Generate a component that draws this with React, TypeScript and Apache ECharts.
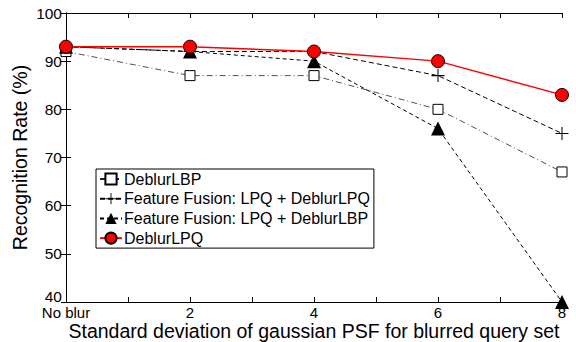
import React, { useEffect, useRef } from "react";
import * as echarts from "echarts";

const xValues = [0, 2, 4, 6, 8];
const deblurLBP = [92, 87, 87, 80, 67];
const fusionLPQ = [93, 92, 92, 87, 75];
const fusionLBP = [93, 92, 90, 76, 40];
const deblurLPQ = [93, 93, 92, 90, 83];

const seriesNames = [
  "DeblurLBP",
  "Feature Fusion: LPQ + DeblurLPQ",
  "Feature Fusion: LPQ + DeblurLBP",
  "DeblurLPQ",
];

const pair = (ys: number[]) => xValues.map((x, i) => [x, ys[i]]);

const plusPath =
  "path://M4.6,0h0.8v4.6h4.6v0.8h-4.6v4.6h-0.8v-4.6h-4.6v-0.8h4.6z";

export default function App() {
  const ref = useRef<HTMLDivElement>(null);
  useEffect(() => {
    document.body.style.margin = "0";
    const chart = echarts.init(ref.current!, null, { renderer: "svg" });
    const font = "Liberation Sans, Arial, Helvetica, sans-serif";
    const axisCommon = {
      axisLine: { lineStyle: { color: "#000", width: 1 } },
      axisTick: { inside: true, length: 5, lineStyle: { color: "#000" } },
      splitLine: { show: false },
    };
    chart.setOption({
      animation: false,
      textStyle: { fontFamily: font },
      grid: { left: 66, right: 14, top: 13, bottom: 40, outerBoundsMode: "none", containLabel: false },
      legend: {
        orient: "vertical",
        left: 96,
        top: 169,
        padding: [2, 4, 2, 3],
        backgroundColor: "#fff",
        borderColor: "#000",
        borderWidth: 1,
        itemWidth: 22,
        itemHeight: 14,
        itemGap: 3.7,
        textStyle: { fontSize: 16, lineHeight: 16, color: "#000", fontFamily: font, padding: [0, 0, 0, -3] },
        data: seriesNames,
      },
      xAxis: [
        {
          type: "value",
          min: 0,
          max: 8,
          interval: 1,
          ...axisCommon,
          name: "Standard deviation of gaussian PSF for blurred query set",
          nameLocation: "middle",
          nameGap: 20,
          nameMoveOverlap: false,
          nameTextStyle: { fontSize: 19.5, lineHeight: 18, color: "#000", fontFamily: font },
          axisLabel: {
            color: "#000",
            fontSize: 15,
            margin: 4,
            lineHeight: 13,
            fontFamily: font,
            formatter: (v: number) =>
              v === 0 ? "No blur" : v % 2 === 0 ? String(v) : "",
          },
        },
        {
          type: "value",
          position: "top",
          min: 0,
          max: 8,
          interval: 1,
          ...axisCommon,
          axisLabel: { show: false },
        },
      ],
      yAxis: [
        {
          type: "value",
          min: 40,
          max: 100,
          interval: 10,
          ...axisCommon,
          name: "Recognition Rate (%)",
          nameLocation: "middle",
          nameGap: 36,
          nameMoveOverlap: false,
          nameTextStyle: { fontSize: 19.5, color: "#000", fontFamily: font },
          axisLabel: {
            color: "#000",
            fontSize: 15.5,
            margin: 4,
            fontFamily: font,
            formatter: (v: number) => (v === 40 ? "{b|40}" : String(v)),
            rich: { b: { fontSize: 15.5, lineHeight: 12, color: "#000", fontFamily: font, padding: [0, 0, 11, 0] } },
          },
        },
        {
          type: "value",
          position: "right",
          min: 40,
          max: 100,
          interval: 10,
          ...axisCommon,
          axisLabel: { show: false },
        },
      ],
      series: [
        {
          name: seriesNames[0],
          type: "line",
          data: pair(deblurLBP),
          symbol: "rect",
          symbolSize: 10,
          itemStyle: { color: "#fff", borderColor: "#000", borderWidth: 1 },
          lineStyle: { color: "#222", width: 0.8, type: [6, 3, 1, 3] },
          z: 2,
        },
        {
          name: seriesNames[1],
          type: "line",
          data: pair(fusionLPQ),
          symbol: plusPath,
          symbolSize: 13,
          itemStyle: { color: "#000" },
          lineStyle: { color: "#000", width: 1, type: [5, 3] },
          z: 3,
        },
        {
          name: seriesNames[2],
          type: "line",
          data: pair(fusionLBP),
          symbol: "triangle",
          symbolSize: 14,
          itemStyle: { color: "#000" },
          lineStyle: { color: "#000", width: 1, type: [4, 3] },
          z: 4,
        },
        {
          name: seriesNames[3],
          type: "line",
          data: pair(deblurLPQ),
          symbol: "circle",
          symbolSize: 13,
          itemStyle: { color: "#f00", borderColor: "#000", borderWidth: 1 },
          lineStyle: { color: "#f00", width: 1.4 },
          z: 5,
        },
      ],
    });
    return () => chart.dispose();
  }, []);
  return <div ref={ref} style={{ width: 576, height: 342 }} />;
}
